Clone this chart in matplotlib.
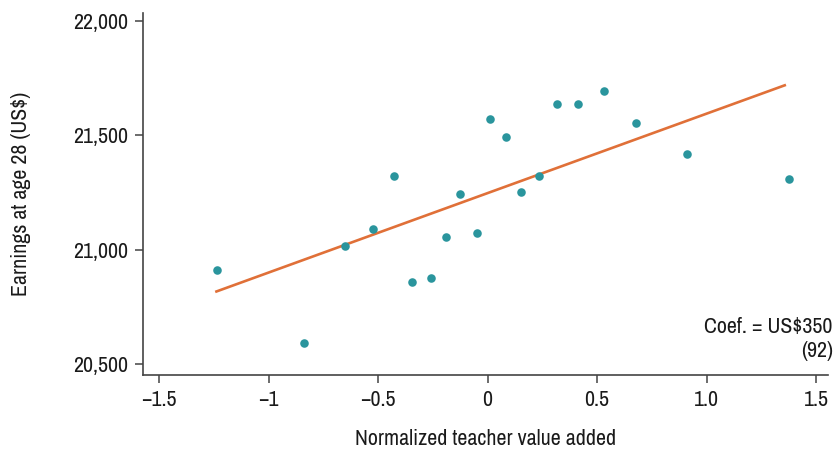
import matplotlib.pyplot as plt
from matplotlib.ticker import FuncFormatter

# binned teacher value added vs earnings at age 28
tva = [-1.237, -0.836, -0.649, -0.524, -0.427, -0.345, -0.257, -0.191, -0.126, -0.050,
       0.009, 0.082, 0.152, 0.235, 0.317, 0.415, 0.532, 0.680, 0.910, 1.376]
earn = [20913, 20590, 21017, 21091, 21320, 20858, 20875, 21055, 21241, 21074,
        21572, 21492, 21250, 21320, 21635, 21635, 21693, 21554, 21416, 21308]

# fitted line end points
fit_x = [-1.238, 1.357]
fit_y = [20817, 21718]

xticks = [-1.5, -1, -0.5, 0, 0.5, 1.0, 1.5]
xticklabels = ["\u22121.5", "\u22121", "\u22120.5", "0", "0.5", "1.0", "1.5"]
yticks = [20500, 21000, 21500, 22000]

fs = 15.8
plt.rcParams['font.family'] = ['Archivo Narrow', 'DejaVu Sans']
plt.rcParams['font.size'] = fs
plt.rcParams['font.weight'] = 'medium'

fig = plt.figure(figsize=(8.36, 4.51), dpi=100)
ax = fig.add_axes([0.1714, 0.1685, 0.8194, 0.8027])

ax.plot(fit_x, fit_y, color="#e07038", lw=1.9, zorder=2)
ax.scatter(tva, earn, s=38, color="#2a959d", zorder=3, linewidths=0)

ax.set_xlim(-1.572, 1.556)
ax.set_ylim(20452, 22034)
ax.set_xticks(xticks)
ax.set_xticklabels(xticklabels)
ax.set_yticks(yticks)
ax.yaxis.set_major_formatter(FuncFormatter(lambda v, p: "{:,.0f}".format(v)))

for s in ["top", "right"]:
    ax.spines[s].set_visible(False)
for s in ["left", "bottom"]:
    ax.spines[s].set_color("#444444")
    ax.spines[s].set_linewidth(1.2)
ax.tick_params(axis="both", direction="out", length=6, width=1.1, color="#444444",
               labelsize=fs, labelcolor="#1a1a1a")
ax.tick_params(axis="x", pad=5)
ax.tick_params(axis="y", pad=5)

ax.set_xlabel("Normalized teacher value added", fontsize=fs, color="#1a1a1a")
ax.set_ylabel("Earnings at age 28 (US$)", fontsize=fs, color="#1a1a1a")
ax.xaxis.set_label_coords(0.499, -0.148)
ax.yaxis.set_label_coords(-0.164, 0.5)

ax.text(1.576, 20635, "Coef. = US$350", ha="right", va="baseline", fontsize=fs,
        color="#1a1a1a", clip_on=False)
ax.text(1.576, 20530, "(92)", ha="right", va="baseline", fontsize=fs,
        color="#1a1a1a", clip_on=False)

plt.savefig("out.png", dpi=100)
